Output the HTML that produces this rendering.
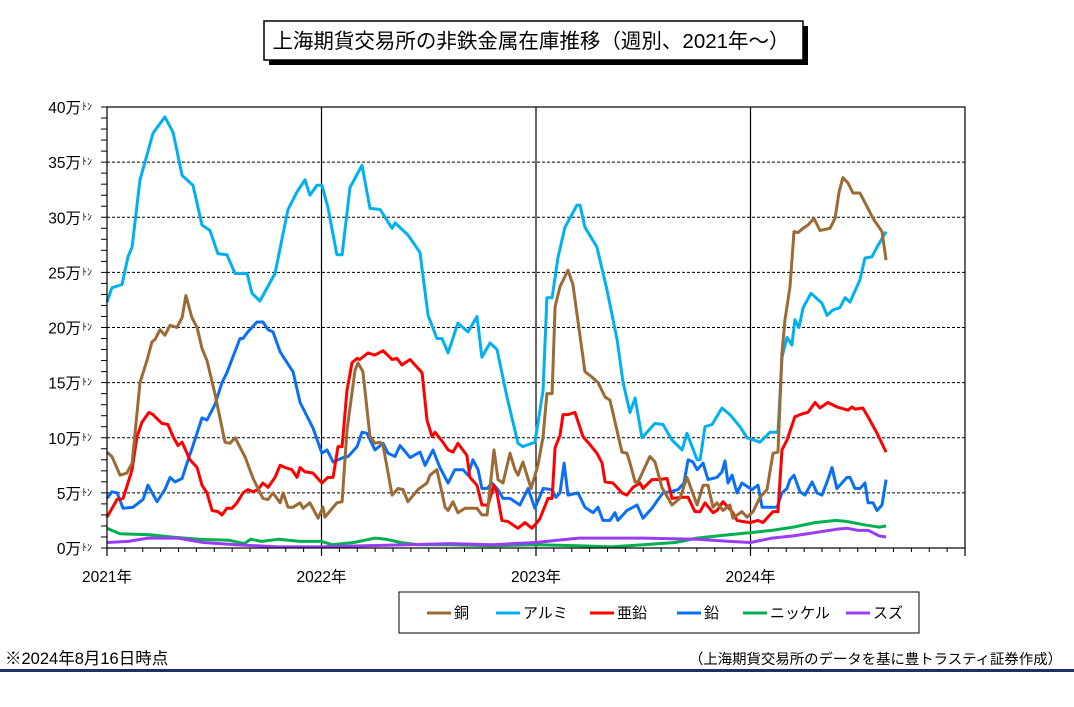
<!DOCTYPE html>
<html><head><meta charset="utf-8">
<style>
body{margin:0;background:#fff;}
svg{display:block;font-family:"Liberation Sans","Noto Sans CJK JP",sans-serif;}
</style></head>
<body>
<svg id="chart" width="1074" height="707" viewBox="0 0 1074 707" xmlns="http://www.w3.org/2000/svg">
  <rect x="0" y="0" width="1074" height="707" fill="#fff"/>
  <g>
    <rect x="269" y="26" width="539" height="39" fill="#000"/>
    <rect x="264" y="21" width="539" height="39" fill="#fff" stroke="#000" stroke-width="1.5"/>
    <text x="531" y="48" font-size="20.5" text-anchor="middle" fill="#000">上海期貨交易所の非鉄金属在庫推移（週別、2021年～）</text>
  </g>
  <g id="grid"></g>
  <g id="yaxis"></g>
  <g id="xaxis"></g>
  <g id="series"></g>
  <rect x="107" y="107" width="858" height="441" fill="none" stroke="#000" stroke-width="1.2"/>
  <g id="legend">
    <rect x="399" y="592" width="520" height="41" fill="#fff" stroke="#000" stroke-width="1"/>
  </g>
  <text x="5" y="664" font-size="16.5" fill="#000">※2024年8月16日時点</text>
  <text x="1062" y="664" font-size="14.4" fill="#000" text-anchor="end">（上海期貨交易所のデータを基に豊トラスティ証券作成）</text>
  <rect x="0" y="669" width="1074" height="3" fill="#1f2d6b"/>
</svg>
<script>
const yTicks = [0,5,10,15,20,25,30,35,40];
const yearLabels = ["2021年","2022年","2023年","2024年"];
const seriesNames = ["銅","アルミ","亜鉛","鉛","ニッケル","スズ"];

const copperDates = [0,.023,.061,.093,.117,.154,.186,.210,.224,.247,.270,.294,.326,.350,.368,.396,.420,.443,.466,.503,.550,.573,.597,.643,.681,.727,.751,.774,.807,.821,.844,.867,.900,.914,.946,.984,1.007,1.016,1.072,1.096,1.119,1.156,1.170,1.193,1.226,1.249,1.273,1.287,1.329,1.357,1.380,1.403,1.450,1.492,1.506,1.538,1.576,1.590,1.613,1.636,1.669,1.725,1.748,1.772,1.786,1.804,1.823,1.846,1.879,1.902,1.916,1.939,1.977,2.009,2.033,2.051,2.075,2.089,2.112,2.149,2.172,2.214,2.228,2.261,2.289,2.322,2.345,2.401,2.424,2.438,2.462,2.476,2.531,2.555,2.587,2.634,2.671,2.704,2.751,2.779,2.802,2.825,2.844,2.872,2.904,2.918,2.960,2.984,3.012,3.044,3.077,3.105,3.128,3.147,3.161,3.184,3.203,3.221,3.245,3.268,3.296,3.324,3.371,3.394,3.413,3.431,3.455,3.478,3.510,3.548,3.571,3.613,3.632];
const copperValues = [8.7,8.3,6.6,6.8,7.7,15,17,18.7,18.9,19.8,19.3,20.2,20,20.9,22.9,20.9,20,18.1,17,14,9.6,9.5,10,8.3,6.3,4.5,4.4,5,4.1,5,3.7,3.7,4.1,3.6,4.1,2.7,3.7,2.8,4.1,4.2,10.7,16.1,16.8,16,10.1,9.5,9.6,9.3,4.8,5.4,5.3,4.2,5.3,5.9,6.6,7.1,3.7,3.4,4.2,3.2,3.6,3.6,3,3,5.5,8.9,6.2,5.9,8.6,7.1,6.6,7.8,5.4,7.5,10.1,14,14,21.9,23.7,25.2,23.9,18,16,15.5,15,13.7,13.4,8.7,8.6,7.7,6,6,8.3,7.8,5.5,3.9,4.5,6.4,3.9,5.7,5.7,3.7,4.1,3.4,3.9,2.7,3.3,2.8,3.3,4.6,5.3,8.6,8.7,17.7,20.7,23.7,28.7,28.6,29,29.3,29.9,28.8,29,29.9,32.3,33.6,33.1,32.2,32.2,30.8,29.9,28.7,26.1];

const aluminumDates = [0,.023,.070,.098,.117,.154,.177,.214,.270,.308,.350,.401,.443,.480,.517,.559,.597,.653,.676,.713,.783,.844,.886,.923,.946,.979,1.002,1.030,1.072,1.096,1.133,1.189,1.226,1.273,1.329,1.343,1.403,1.459,1.497,1.538,1.562,1.590,1.636,1.683,1.725,1.748,1.786,1.818,1.865,1.916,1.939,1.995,2.033,2.051,2.075,2.103,2.135,2.191,2.205,2.228,2.284,2.331,2.378,2.406,2.438,2.462,2.494,2.555,2.592,2.634,2.681,2.704,2.751,2.765,2.788,2.821,2.867,2.904,2.951,2.984,3.044,3.091,3.128,3.147,3.170,3.193,3.207,3.226,3.245,3.282,3.333,3.357,3.385,3.417,3.441,3.464,3.510,3.534,3.566,3.590,3.632];
const aluminumValues = [22.3,23.6,23.9,26.4,27.3,33.4,35,37.6,39.1,37.7,33.8,32.9,29.3,28.8,26.7,26.6,24.9,24.9,23.1,22.4,24.9,30.7,32.3,33.4,32,32.9,32.9,30.9,26.6,26.6,32.7,34.7,30.8,30.7,29,29.5,28.4,26.8,21.1,19,19,17.7,20.4,19.6,21,17.3,18.6,18,13.7,9.5,9.2,9.6,14.3,22.7,22.7,26.4,29.1,31.1,31.1,29.1,27.3,23.4,18.9,15,12.3,13.6,10,11.3,11.2,9.8,8.9,10.4,8,8,11,11.2,12.7,12.1,11,10,9.6,10.5,10.5,17.3,19.1,18.4,20.7,20,21.8,23.1,22.2,21.1,21.6,21.8,22.7,22.3,24.3,26.3,26.4,27.3,28.7];

const zincDates = [0,.047,.075,.117,.140,.163,.196,.214,.256,.284,.308,.331,.350,.387,.420,.443,.466,.490,.517,.536,.559,.583,.606,.634,.657,.681,.704,.727,.751,.783,.807,.830,.862,.886,.900,.923,.960,1.002,1.030,1.054,1.077,1.096,1.119,1.142,1.166,1.179,1.217,1.249,1.287,1.329,1.352,1.375,1.413,1.436,1.469,1.492,1.515,1.529,1.566,1.590,1.613,1.636,1.678,1.692,1.725,1.748,1.776,1.804,1.818,1.841,1.869,1.916,1.949,1.981,2.009,2.019,2.056,2.075,2.089,2.112,2.126,2.149,2.182,2.219,2.242,2.284,2.308,2.322,2.359,2.401,2.424,2.452,2.485,2.499,2.541,2.569,2.611,2.634,2.685,2.709,2.741,2.765,2.788,2.825,2.844,2.872,2.914,2.937,2.965,2.998,3.035,3.058,3.105,3.128,3.147,3.170,3.207,3.245,3.268,3.301,3.324,3.361,3.403,3.455,3.473,3.487,3.524,3.548,3.590,3.632];
const zincValues = [2.8,4.4,4.5,7.1,10.1,11.4,12.3,12.1,11.3,11.2,10.1,9.3,9.6,8,7.3,5.7,5,3.4,3.3,3,3.6,3.6,4.1,5,5.3,5.1,5.3,5.9,5.5,6.4,7.5,7.3,7.1,6.4,7.3,6.9,6.8,5.9,6.4,6.4,9.2,9.2,14.3,16.8,17.2,17.1,17.7,17.5,17.9,17.1,17.2,16.6,17.1,16.6,15.9,11.6,10.1,10.5,9.6,8.9,8.7,9.5,8.4,6.4,5.7,3.9,3.9,5.7,5,2.5,2.4,1.8,2.3,1.8,2.4,2.7,4.5,4.5,9.1,10.2,12.1,12.1,12.3,10.1,9.6,8.6,7.7,6,5.9,5,4.8,5.5,5.9,5.4,6.2,6.2,6.3,4.5,4.6,4.6,3.3,3.3,4.1,3.2,3.4,4.2,3.3,2.5,2.4,2.3,2.5,2.3,3.3,3.3,8.9,9.8,11.9,12.2,12.3,13.2,12.7,13.2,12.8,12.5,12.8,12.6,12.7,11.9,10.4,8.7];

const leadDates = [0,.023,.047,.075,.121,.168,.191,.233,.270,.294,.317,.350,.373,.401,.443,.466,.503,.536,.559,.620,.634,.657,.699,.727,.751,.774,.807,.853,.867,.900,.960,1.002,1.026,1.054,1.100,1.124,1.166,1.189,1.212,1.249,1.287,1.310,1.343,1.366,1.413,1.459,1.483,1.520,1.552,1.590,1.622,1.660,1.683,1.706,1.730,1.748,1.772,1.795,1.823,1.846,1.879,1.925,1.963,1.995,2.033,2.075,2.093,2.112,2.131,2.149,2.196,2.228,2.266,2.289,2.312,2.345,2.368,2.382,2.424,2.471,2.499,2.541,2.569,2.592,2.625,2.662,2.690,2.709,2.732,2.751,2.779,2.802,2.844,2.867,2.881,2.895,2.914,2.937,2.960,3.007,3.035,3.054,3.124,3.147,3.170,3.184,3.203,3.231,3.254,3.287,3.310,3.333,3.357,3.380,3.403,3.450,3.464,3.487,3.510,3.534,3.548,3.571,3.590,3.613,3.632];
const leadValues = [4.5,5.1,5,3.6,3.7,4.4,5.7,4.2,5.3,6.4,6,6.3,7.7,9.3,11.8,11.6,13,15,15.9,19,19,19.6,20.5,20.5,19.8,19.6,17.8,16.4,16,13.2,10.9,8.6,8.9,7.8,8.2,8.3,9.2,10.5,10.4,8.9,9.5,8.6,8.3,9.3,8.2,8.7,7.5,8.9,7.3,5.9,7.1,7.1,6.6,8,7.1,5.4,5.4,5.9,5.3,4.5,4.5,3.9,5.4,3.6,5.4,5.3,4.6,5,7.7,4.8,5,3.7,3.2,3.7,2.5,2.5,3.2,2.5,3.4,3.9,2.7,3.6,4.4,5,5.1,5.3,5.9,8,7.8,7.1,7.7,6.2,6.4,6.9,7.9,5.9,6.6,5,5.9,5.3,5.7,3.7,3.7,5,5.4,6.2,6.6,5.1,4.8,6,5,4.8,6,7.3,5.4,6.4,6.4,5.4,5.4,5.9,4.1,4.1,3.4,3.9,6.2];

const nickelDates = [0,.06,.2,.3,.43,.57,.64,.67,.72,.8,.9,1.0,1.05,1.15,1.25,1.3,1.37,1.45,1.6,1.8,2.0,2.2,2.35,2.5,2.65,2.75,2.9,3.0,3.1,3.2,3.3,3.4,3.45,3.53,3.6,3.632];
const nickelValues = [1.8,1.3,1.2,1.0,0.8,0.7,0.4,0.8,0.6,0.8,0.6,0.6,0.3,0.5,0.9,0.8,0.5,0.3,0.3,0.2,0.3,0.2,0.1,0.3,0.5,0.9,1.2,1.4,1.6,1.9,2.3,2.5,2.4,2.1,1.9,2.0];

const tinDates = [0,.1,.19,.33,.45,.6,.8,1.0,1.2,1.4,1.6,1.8,2.0,2.1,2.2,2.5,2.75,2.9,3.0,3.1,3.2,3.3,3.4,3.45,3.5,3.55,3.6,3.632];
const tinValues = [0.5,0.6,0.9,0.9,0.5,0.3,0.1,0.1,0.2,0.3,0.4,0.3,0.5,0.7,0.9,0.9,0.8,0.6,0.5,0.9,1.1,1.4,1.7,1.8,1.6,1.6,1.1,1.0];

const NS = "http://www.w3.org/2000/svg";
const plotL = 107, plotR = 965, plotT = 107, plotB = 548;
const yearPx = 214.5;
function xScale(t){ return plotL + t * yearPx; }
function yScale(v){ return plotB - (v / 40) * (plotB - plotT); }
function mk(tag, attrs, parent){
  const el = document.createElementNS(NS, tag);
  for (const k in attrs) el.setAttribute(k, attrs[k]);
  parent.appendChild(el);
  return el;
}
const grid = document.getElementById('grid');
const yaxis = document.getElementById('yaxis');
const xaxis = document.getElementById('xaxis');

yTicks.forEach(v => {
  if (v === 0 || v === 40) return;
  const l = mk('line', {x1: plotL, x2: plotR, y1: yScale(v), y2: yScale(v), stroke: '#000', 'stroke-width': 1, 'stroke-dasharray': '3,2'}, grid);
  
  
});
for (let v = 0; v <= 40; v++) {
  const tk = mk('line', {x1: plotL - 6, x2: plotL, y1: yScale(v), y2: yScale(v), stroke: '#000', 'stroke-width': 1}, yaxis);
  
  
}
yTicks.forEach(v => {
  const t = mk('text', {x: 81, y: yScale(v) + 6, 'font-size': 15.5, 'text-anchor': 'end', fill: '#000'}, yaxis);
  t.textContent = v + '万';
  
  
  const s = mk('text', {x: 82, y: yScale(v) + 3, 'font-size': 10, fill: '#000'}, yaxis);
  s.textContent = 'ﾄﾝ';
  
  
});
yearLabels.forEach((lab, i) => {
  const x = xScale(i);
  if (i > 0) {
    const vl = mk('line', {x1: x, x2: x, y1: plotT, y2: plotB, stroke: '#000', 'stroke-width': 1.2}, grid);
    
    
  }
  const tk = mk('line', {x1: x, x2: x, y1: plotB, y2: plotB + 8, stroke: '#000', 'stroke-width': 1.2}, xaxis);
  
  
  const t = mk('text', {x: x, y: 582, 'font-size': 15.5, 'text-anchor': 'middle', fill: '#000'}, xaxis);
  t.textContent = lab;
  
  
});
for (let m = 1; m <= 48; m++) {
  const x = xScale(m / 12);
  if (x > plotR + 0.5) break;
  const tk = mk('line', {x1: x, x2: x, y1: plotB, y2: plotB + 4, stroke: '#000', 'stroke-width': 1}, xaxis);
  
  
}
const endTick = mk('line', {x1: plotR, x2: plotR, y1: plotB, y2: plotB + 8, stroke: '#000', 'stroke-width': 1.2}, xaxis);



const seriesList = [
  {name: seriesNames[4], key: 'nickel', dates: nickelDates, values: nickelValues, color: '#00b050'},
  {name: seriesNames[5], key: 'tin', dates: tinDates, values: tinValues, color: '#9b3cf5'},
  {name: seriesNames[3], key: 'lead', dates: leadDates, values: leadValues, color: '#0a6ff2'},
  {name: seriesNames[2], key: 'zinc', dates: zincDates, values: zincValues, color: '#ff0000'},
  {name: seriesNames[1], key: 'aluminum', dates: aluminumDates, values: aluminumValues, color: '#00b0f0'},
  {name: seriesNames[0], key: 'copper', dates: copperDates, values: copperValues, color: '#9c6a35'}
];
const seriesG = document.getElementById('series');
seriesList.forEach(s => {
  const pts = s.dates.map((d, i) => xScale(d).toFixed(1) + ',' + yScale(s.values[i]).toFixed(1)).join(' ');
  const pl = mk('polyline', {points: pts, fill: 'none', stroke: s.color, 'stroke-width': 3, 'stroke-linejoin': 'round'}, seriesG);
  
  
});

const legend = document.getElementById('legend');
const legendItems = [
  {name: seriesNames[0], color: '#9c6a35', x: 427},
  {name: seriesNames[1], color: '#00b0f0', x: 496},
  {name: seriesNames[2], color: '#ff0000', x: 590},
  {name: seriesNames[3], color: '#0a6ff2', x: 677},
  {name: seriesNames[4], color: '#00b050', x: 743},
  {name: seriesNames[5], color: '#9b3cf5', x: 846}
];
legendItems.forEach(it => {
  const g = mk('g', {}, legend);
  
  
  mk('line', {x1: it.x, x2: it.x + 24, y1: 613, y2: 613, stroke: it.color, 'stroke-width': 3}, g);
  const t = mk('text', {x: it.x + 27, y: 618, 'font-size': 15, fill: '#000'}, g);
  t.textContent = it.name;
});
</script>
</body></html>
